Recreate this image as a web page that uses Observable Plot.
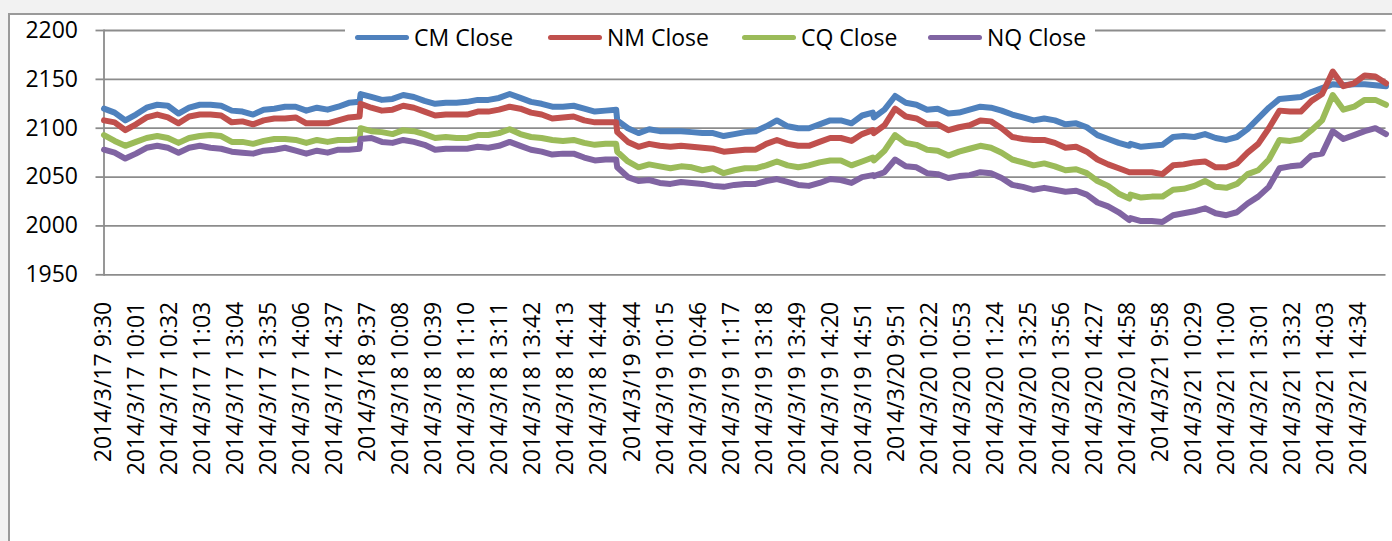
<!DOCTYPE html>
<html>
<head>
<meta charset="utf-8">
<script src="https://cdn.jsdelivr.net/npm/d3@7"></script>
<script src="https://cdn.jsdelivr.net/npm/@observablehq/plot@0.6"></script>
<style>
  html, body { margin: 0; padding: 0; background: #f2f2f2; overflow: hidden; width: 1392px; height: 541px; }
  #box { position: absolute; left: 8px; top: 13px; width: 1420px; height: 600px; background: #fff; border: 2px solid #9a9a9a; box-sizing: border-box; }
  #chart { position: absolute; left: 0; top: 0; }
  #legend { position: absolute; left: 345px; top: 20px; height: 34px; width: 750px; background: #fff;
            font-family: "Open Sans", sans-serif; font-size: 23px; color: #000; }
  .item { position: absolute; top: 0; height: 34px; display: flex; align-items: center; }
  .sw { width: 54px; height: 5px; border-radius: 3px; margin-right: 5px; }
</style>
</head>
<body>
<div id="box"></div>
<div id="chart"></div>
<div id="legend"></div>
<script>
// ---- categories ----
const days = ["2014/3/17", "2014/3/18", "2014/3/19", "2014/3/20", "2014/3/21"];
const tickLabels = [
  "2014/3/17 9:30", "2014/3/17 10:01", "2014/3/17 10:32", "2014/3/17 11:03", "2014/3/17 13:04",
  "2014/3/17 13:35", "2014/3/17 14:06", "2014/3/17 14:37", "2014/3/18 9:37", "2014/3/18 10:08",
  "2014/3/18 10:39", "2014/3/18 11:10", "2014/3/18 13:11", "2014/3/18 13:42", "2014/3/18 14:13",
  "2014/3/18 14:44", "2014/3/19 9:44", "2014/3/19 10:15", "2014/3/19 10:46", "2014/3/19 11:17",
  "2014/3/19 13:18", "2014/3/19 13:49", "2014/3/19 14:20", "2014/3/19 14:51", "2014/3/20 9:51",
  "2014/3/20 10:22", "2014/3/20 10:53", "2014/3/20 11:24", "2014/3/20 13:25", "2014/3/20 13:56",
  "2014/3/20 14:27", "2014/3/20 14:58", "2014/3/21 9:58", "2014/3/21 10:29", "2014/3/21 11:00",
  "2014/3/21 13:01", "2014/3/21 13:32", "2014/3/21 14:03", "2014/3/21 14:34"
];
const yTicks = [1950, 2000, 2050, 2100, 2150, 2200];
const seriesNames = ["CM Close", "NM Close", "CQ Close", "NQ Close"];
const seriesColors = ["#4f81bd", "#c0504d", "#9bbb59", "#8064a2"];

// ---- values, every 10th minute of each trading day ----
const cmClose = [
  2120, 2116, 2108, 2114, 2121, 2124, 2123, 2115, 2121, 2124, 2124, 2123, 2118, 2117, 2114, 2119, 2120, 2122, 2122, 2118, 2121, 2119, 2122, 2126, 2127,
  2135, 2132, 2129, 2130, 2134, 2132, 2128, 2125, 2126, 2126, 2127, 2129, 2129, 2131, 2135, 2131, 2127, 2125, 2122, 2122, 2123, 2120, 2117, 2118, 2119,
  2108, 2100, 2095, 2099, 2097, 2097, 2097, 2096, 2095, 2095, 2092, 2094, 2096, 2097, 2102, 2108, 2102, 2100, 2100, 2104, 2108, 2108, 2105, 2113, 2116,
  2111, 2119, 2133, 2126, 2124, 2119, 2120, 2115, 2116, 2119, 2122, 2121, 2118, 2114, 2111, 2108, 2110, 2108, 2104, 2105, 2101, 2093, 2089, 2085, 2082,
  2084, 2081, 2082, 2083, 2091, 2092, 2091, 2094, 2090, 2088, 2091, 2099, 2110, 2121, 2130, 2131, 2132, 2137, 2141, 2145, 2144, 2145, 2145, 2144, 2143
];
const nmClose = [
  2108, 2106, 2098, 2104, 2111, 2114, 2111, 2105, 2112, 2114, 2114, 2113, 2106, 2107, 2104, 2108, 2110, 2110, 2111, 2105, 2105, 2105, 2108, 2111, 2112,
  2125, 2121, 2118, 2119, 2123, 2121, 2117, 2113, 2114, 2114, 2114, 2117, 2117, 2119, 2122, 2120, 2116, 2114, 2110, 2111, 2112, 2108, 2106, 2106, 2106,
  2096, 2086, 2081, 2084, 2082, 2081, 2082, 2081, 2080, 2079, 2076, 2077, 2078, 2078, 2084, 2088, 2084, 2082, 2082, 2086, 2090, 2090, 2087, 2094, 2098,
  2095, 2103, 2120, 2112, 2110, 2104, 2104, 2098, 2101, 2103, 2108, 2107, 2100, 2091, 2089, 2088, 2088, 2085, 2080, 2081, 2076, 2068, 2063, 2059, 2055,
  2055, 2055, 2055, 2053, 2062, 2063, 2065, 2066, 2060, 2060, 2064, 2075, 2084, 2100, 2118, 2117, 2117, 2128, 2135, 2158, 2143, 2146, 2154, 2153, 2146
];
const cqClose = [
  2093, 2087, 2082, 2086, 2090, 2092, 2090, 2085, 2090, 2092, 2093, 2092, 2086, 2086, 2084, 2087, 2089, 2089, 2088, 2085, 2088, 2086, 2088, 2088, 2089,
  2100, 2097, 2096, 2094, 2098, 2097, 2094, 2090, 2091, 2090, 2090, 2093, 2093, 2095, 2099, 2094, 2091, 2090, 2088, 2087, 2088, 2085, 2083, 2084, 2084,
  2076, 2066, 2060, 2063, 2061, 2059, 2061, 2060, 2057, 2059, 2054, 2057, 2059, 2059, 2062, 2066, 2062, 2060, 2062, 2065, 2067, 2067, 2062, 2066, 2070,
  2067, 2077, 2093, 2085, 2083, 2078, 2077, 2072, 2076, 2079, 2082, 2080, 2075, 2068, 2065, 2062, 2064, 2061, 2057, 2058, 2054, 2046, 2041, 2033, 2028,
  2032, 2029, 2030, 2030, 2037, 2038, 2041, 2046, 2040, 2039, 2043, 2053, 2057, 2068, 2088, 2087, 2089, 2098, 2108, 2134, 2119, 2122, 2129, 2129, 2124
];
const nqClose = [
  2078, 2075, 2069, 2074, 2080, 2082, 2080, 2075, 2080, 2082, 2080, 2079, 2076, 2075, 2074, 2077, 2078, 2080, 2077, 2074, 2077, 2075, 2078, 2078, 2079,
  2089, 2090, 2086, 2085, 2088, 2086, 2083, 2078, 2079, 2079, 2079, 2081, 2080, 2082, 2086, 2082, 2078, 2076, 2073, 2074, 2074, 2070, 2067, 2068, 2068,
  2060, 2050, 2046, 2047, 2044, 2043, 2045, 2044, 2043, 2041, 2040, 2042, 2043, 2043, 2046, 2048, 2045, 2042, 2041, 2044, 2048, 2047, 2044, 2050, 2052,
  2051, 2055, 2068, 2061, 2060, 2054, 2053, 2049, 2051, 2052, 2055, 2054, 2049, 2042, 2040, 2037, 2039, 2037, 2035, 2036, 2032, 2024, 2020, 2014, 2006,
  2008, 2005, 2005, 2004, 2011, 2013, 2015, 2018, 2013, 2011, 2014, 2023, 2030, 2040, 2059, 2061, 2062, 2072, 2074, 2097, 2089, 2093, 2097, 2100, 2094
];

// ---- build category list (every trading minute) and the sampled times ----
const sessionMinutes = [];
for (let t = 9 * 60 + 30; t <= 11 * 60 + 30; t++) sessionMinutes.push(t);
for (let t = 13 * 60 + 1; t <= 15 * 60; t++) sessionMinutes.push(t);
const fmt = t => `${Math.floor(t / 60)}:${String(t % 60).padStart(2, "0")}`;
const allTimes = days.flatMap(d => sessionMinutes.map(t => `${d} ${fmt(t)}`));
const sampleTimes = days.flatMap(d => sessionMinutes.filter((_, i) => i % 10 === 0).map(t => `${d} ${fmt(t)}`));

const seriesValues = [cmClose, nmClose, cqClose, nqClose];
const data = seriesNames.flatMap((name, s) =>
  sampleTimes.map((time, i) => ({ series: name, time, value: seriesValues[s][i] })));

const gridColor = "#8c8c8c";
const chart = Plot.plot({
  width: 1392,
  height: 541,
  marginLeft: 103.5,
  marginRight: 6.5,
  marginTop: 30,
  marginBottom: 266.7,
  style: { background: "transparent", fontFamily: "'Open Sans', sans-serif", fontSize: "23px", color: "#000" },
  x: { type: "point", domain: allTimes, padding: 0 },
  y: { domain: [1950, 2200] },
  color: { domain: seriesNames, range: seriesColors },
  marks: [
    Plot.gridY(yTicks, { stroke: gridColor, strokeOpacity: 1, strokeWidth: 1.8 }),
    Plot.axisY(yTicks, { tickSize: 8, tickPadding: 18, tickFormat: d => String(d), stroke: gridColor, strokeWidth: 1.8, fontSize: 23, fill: "#000", label: null }),
    Plot.axisX(tickLabels, { tickRotate: -90, tickSize: 0, tickPadding: 27, fontSize: 23, fill: "#000", label: null }),
    Plot.frame({ anchor: "left", stroke: gridColor, strokeWidth: 1.8 }),
    Plot.lineY(data, { x: "time", y: "value", z: "series", stroke: "series", strokeWidth: 6, strokeLinejoin: "round", strokeLinecap: "round" })
  ]
});
document.getElementById("chart").appendChild(chart);

// ---- legend ----
const legend = document.getElementById("legend");
const itemLeft = [10, 203, 397, 583];
seriesNames.forEach((name, i) => {
  const item = document.createElement("div");
  item.className = "item";
  item.style.left = itemLeft[i] + "px";
  const sw = document.createElement("div");
  sw.className = "sw";
  sw.style.background = seriesColors[i];
  const label = document.createElement("span");
  label.textContent = name;
  item.appendChild(sw);
  item.appendChild(label);
  legend.appendChild(item);
});
</script>
</body>
</html>
